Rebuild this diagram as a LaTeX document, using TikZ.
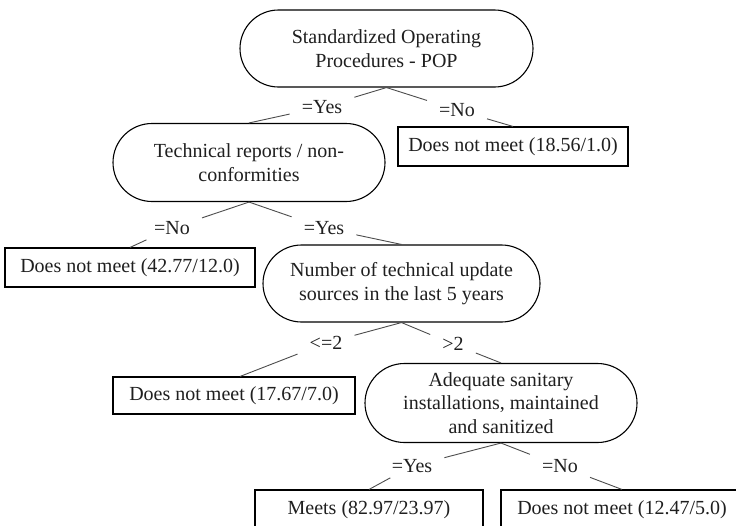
\documentclass[tikz,border=0pt]{standalone}
\usepackage{fontspec}
\setmainfont{Liberation Serif}
\usetikzlibrary{shapes.misc}

\tikzset{
  every node/.style={font=\fontsize{20pt}{23.5pt}\selectfont, text=black!88},
  decision/.style={draw, rounded rectangle, line width=1.1pt, align=center,
                   minimum height=78pt, inner sep=0pt},
  leaf/.style={draw, rectangle, line width=1.1pt, minimum height=39pt, inner sep=0pt},
  branch/.style={inner xsep=12pt, inner ysep=5pt},
  link/.style={line width=0.9pt, draw=black!70}
}

\begin{document}
\begin{tikzpicture}[x=1pt, y=-1pt]
\useasboundingbox (0,0) rectangle (736,525);
\clip (0,0) rectangle (736,525);

% decision nodes
\node[decision, minimum width=293pt, minimum height=77pt] (root) at (386.5,48.5)
  {Standardized Operating\\Procedures - POP};
\node[decision, minimum width=272pt] (tech) at (249,162.5)
  {Technical reports / non-\\conformities};
\node[decision, minimum width=277pt, minimum height=77pt] (num) at (401.5,283.5)
  {Number of technical update\\sources in the last 5 years};
\node[decision, minimum width=272pt, minimum height=79pt] (adq) at (501,403)
  {Adequate sanitary\\installations, maintained\\and sanitized};

% leaves
\node[leaf, minimum width=230pt] (leafA) at (513,146.5) {Does not meet (18.56/1.0)};
\node[leaf, minimum width=250pt] (leafB) at (130,267.5) {Does not meet (42.77/12.0)};
\node[leaf, minimum width=242pt, minimum height=37pt] (leafC) at (234,395.5) {Does not meet (17.67/7.0)};
\node[leaf, minimum width=228pt] (leafD) at (369,509.5) {Meets (82.97/23.97)};
\node[leaf, minimum width=242pt] (leafE) at (622,509.5) {Does not meet (12.47/5.0)};

% branch labels
\node[branch] (b1) at (322,107) {=Yes};
\node[branch] (b2) at (457,110) {=No};
\node[branch] (b3) at (172,228) {=No};
\node[branch] (b4) at (324,228) {=Yes};
\node[branch] (b5) at (326,343) {<=2};
\node[branch] (b6) at (453,344) {>2};
\node[branch] (b7) at (412,466) {=Yes};
\node[branch] (b8) at (560,466) {=No};

% connectors
\draw[link] (root.south) -- (b1) -- (tech.north);
\draw[link] (root.south) -- (b2) -- (leafA.north);
\draw[link] (tech.south) -- (b3) -- (leafB.north);
\draw[link] (tech.south) -- (b4) -- (num.north);
\draw[link] (num.south) -- (b5) -- ([xshift=6pt]leafC.north);
\draw[link] (num.south) -- (b6) -- (adq.north);
\draw[link] (adq.south) -- (b7) -- (leafD.north);
\draw[link] (adq.south) -- (b8) -- (leafE.north);
\end{tikzpicture}
\end{document}
